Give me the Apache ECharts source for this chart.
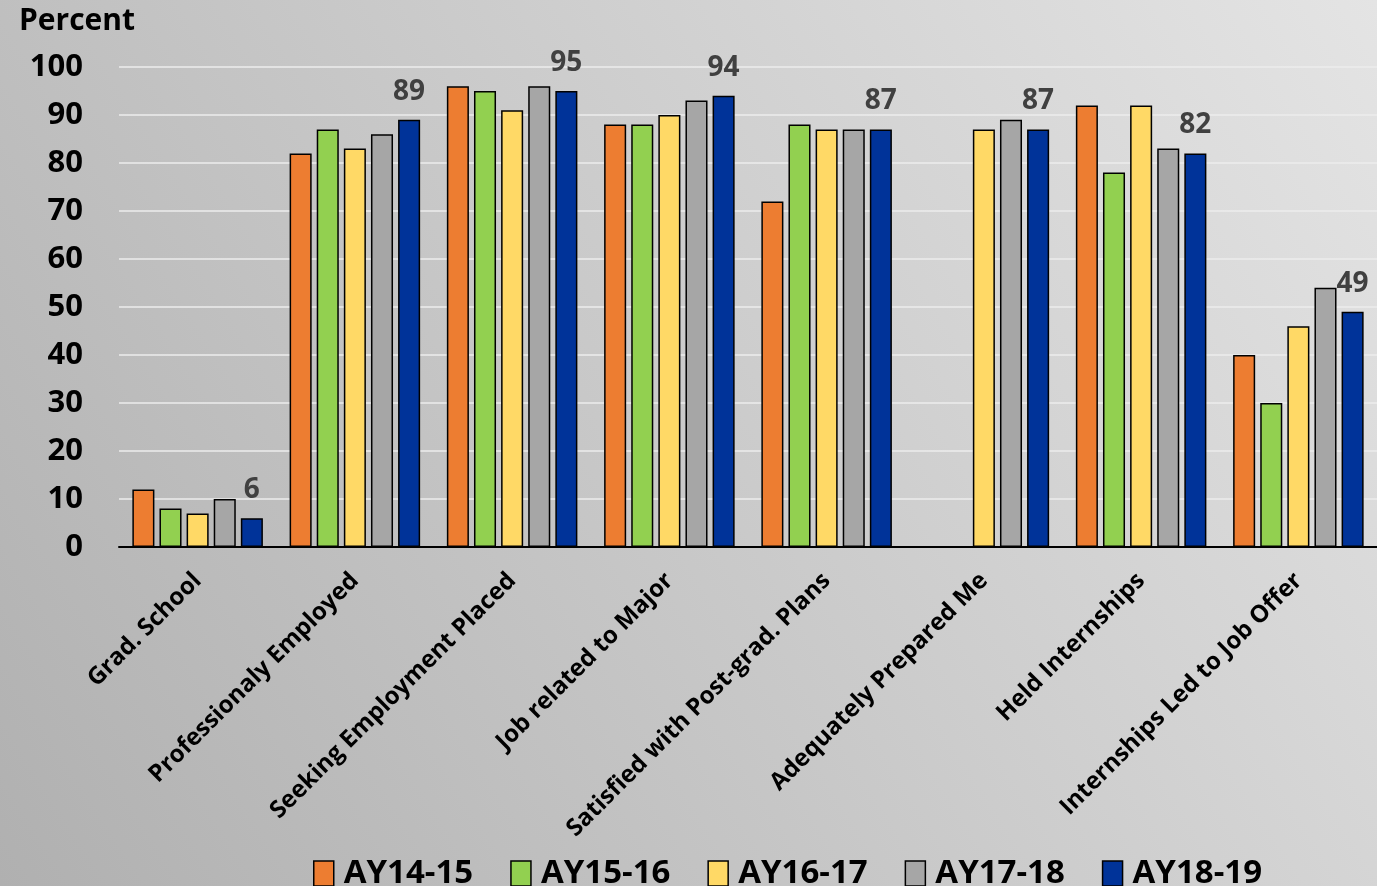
<!DOCTYPE html>
<html>
<head>
<meta charset="utf-8">
<script src="https://cdn.jsdelivr.net/npm/echarts@6/dist/echarts.min.js"></script>
<style>
html,body{margin:0;padding:0;width:1377px;height:886px;overflow:hidden;}
#c{width:1377px;height:886px;}
</style>
</head>
<body>
<div id="c"></div>
<script>
const categories = ["Grad. School","Professionaly Employed","Seeking Employment Placed","Job related to Major","Satisfied with Post-grad. Plans","Adequately Prepared Me","Held Internships","Internships Led to Job Offer"];
const seriesNames = ["AY14-15","AY15-16","AY16-17","AY17-18","AY18-19"];
const ay1415 = [12, 82, 96, 88, 72, null, 92, 40];
const ay1516 = [8, 87, 95, 88, 88, null, 78, 30];
const ay1617 = [7, 83, 91, 90, 87, 87, 92, 46];
const ay1718 = [10, 86, 96, 93, 87, 89, 83, 54];
const ay1819 = [6, 89, 95, 94, 87, 87, 82, 49];
const colors = ["#ED7D31","#92D050","#FFD966","#A6A6A6","#003399"];
const yTicks = [0,10,20,30,40,50,60,70,80,90,100];

const FONT = '"Open Sans", "Noto Sans", sans-serif';
const allData = [ay1415, ay1516, ay1617, ay1718, ay1819];

const chart = echarts.init(document.getElementById('c'));
chart.setOption({
  backgroundColor: {
    type: 'linear', x: 0, y: 1, x2: 1, y2: 0,
    colorStops: [
      {offset: 0, color: '#b0b0b0'},
      {offset: 0.5, color: '#cacaca'},
      {offset: 1, color: '#e4e4e4'}
    ]
  },
  title: {
    text: 'Percent', left: 14, top: 1,
    textStyle: {fontFamily: FONT, fontWeight: 'bold', fontSize: 30, color: '#000'}
  },
  grid: {left: 119, right: 0, top: 67, bottom: 339, containLabel: false},
  legend: {
    data: seriesNames,
    top: 852, left: 308,
    itemWidth: 20, itemHeight: 25, itemGap: 37,
    icon: 'rect',
    itemStyle: {borderColor: '#000', borderWidth: 1.5},
    textStyle: {fontFamily: FONT, fontWeight: 'bold', fontSize: 33, color: '#000', padding: [0,0,0,5]}
  },
  xAxis: {
    type: 'category', data: categories,
    axisLine: {lineStyle: {color: '#000', width: 2}},
    axisTick: {show: false},
    axisLabel: {
      rotate: 45, interval: 0, margin: 30,
      fontFamily: FONT, fontWeight: 'bold', fontSize: 24, color: '#000'
    }
  },
  yAxis: {
    type: 'value', min: 0, max: 100, interval: 10,
    axisLine: {show: false}, axisTick: {show: false},
    splitLine: {lineStyle: {color: '#ececec', width: 1.5}},
    axisLabel: {
      margin: 36, fontFamily: FONT, fontWeight: 'bold', fontSize: 31, color: '#000',
      formatter: v => yTicks.indexOf(v) >= 0 ? String(v) : ''
    }
  },
  series: seriesNames.map((name, i) => ({
    name, type: 'bar', data: allData[i],
    barCategoryGap: '17%', barGap: '23%',
    itemStyle: {color: colors[i], borderColor: '#000', borderWidth: 1.5},
    label: i === 4 ? {
      show: true, position: 'top', distance: 14,
      fontFamily: FONT, fontWeight: 'bold', fontSize: 28, color: '#404040'
    } : {show: false},
    emphasis: {disabled: true},
    animation: false
  }))
});
</script>
</body>
</html>
